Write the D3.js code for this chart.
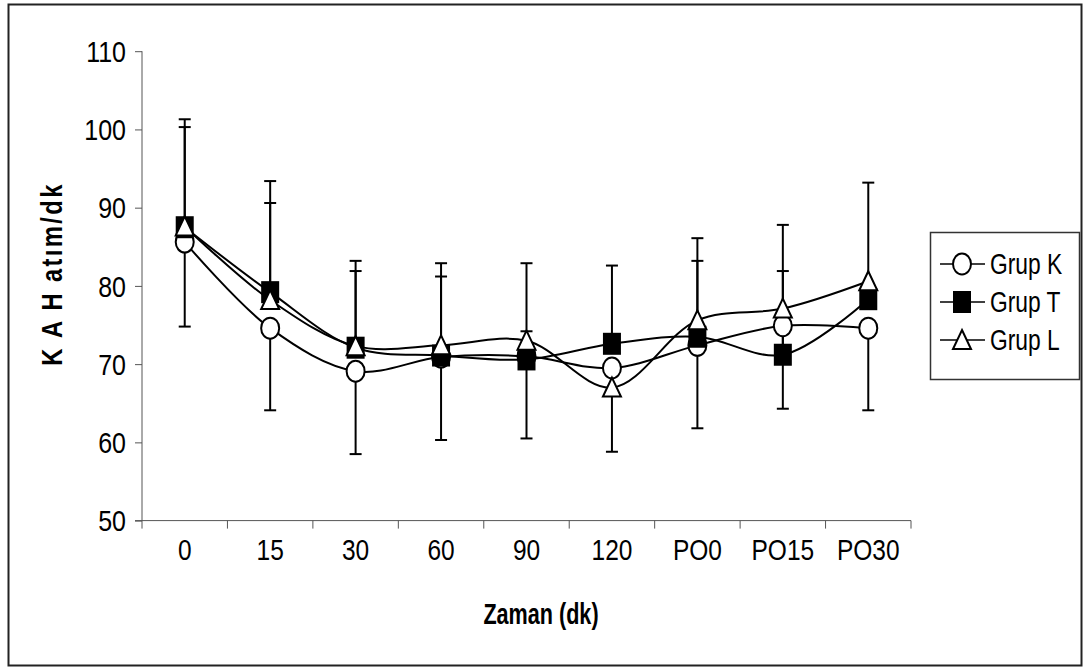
<!DOCTYPE html>
<meta charset="utf-8">
<style>
    body { margin: 0; background: #fff; }
    text { font-family: "Liberation Sans", Arial, sans-serif; fill: #000; }
</style>
<svg id="mainSVG" width="1085" height="671"></svg>
<script src="https://d3js.org/d3.v7.min.js"></script>
<script>
    // time points
    var times = ["0", "15", "30", "60", "90", "120", "PO0", "PO15", "PO30"];
    var yTicks = [50, 60, 70, 80, 90, 100, 110];

    // mean values
    var grupK = [85.6, 74.6, 69.1, 70.9, 71.0, 69.5, 72.4, 74.9, 74.6];
    var grupT = [87.5, 79.2, 72.1, 71.1, 70.6, 72.6, 73.5, 71.2, 78.3];
    var grupL = [87.6, 78.2, 72.3, 72.4, 73.0, 67.0, 75.6, 77.1, 80.6];

    // SD (K drawn downwards, T and L upwards)
    var sdK = [10.8, 10.5, 10.6, 10.6, 10.5, 10.7, 10.6, 10.6, 10.5];
    var sdT = [13.8, 14.2, 11.1, 11.8, 12.3, 10.0, 9.7, 10.7, 1.0];
    var sdL = [12.7, 12.4, 9.6, 8.8, 1.2, 3.0, 10.5, 10.7, 12.6];

    var series = [
        { name: "Grup K", values: grupK, sd: sdK, dir: 1, shape: "circle" },
        { name: "Grup T", values: grupT, sd: sdT, dir: -1, shape: "square" },
        { name: "Grup L", values: grupL, sd: sdL, dir: -1, shape: "triangle" }
    ];

    var svg = d3.select("svg");
    var sy = 1.2; // text is a bit taller than wide in the original

    var x = d3.scaleBand().domain(times).range([142, 911]);
    var y = d3.scaleLinear().domain([50, 110]).range([520.6, 51.2]);
    var cx = function (i) { return x(times[i]) + x.bandwidth() / 2; };

    function label(g, tx, ty, str, size, anchor, bold, sx) {
        return g.append("text")
            .attr("transform", "translate(" + tx + "," + ty + ") scale(" + (sx || 1) + "," + sy + ")")
            .attr("text-anchor", anchor)
            .attr("dy", "0.36em")
            .style("font-size", size + "px")
            .style("font-weight", bold ? "bold" : "normal")
            .text(str);
    }

    // outer frame
    svg.append("rect")
        .attr("x", 8.5).attr("y", 4.5)
        .attr("width", 1073).attr("height", 661)
        .attr("fill", "none").attr("stroke", "#222").attr("stroke-width", 2);

    // y axis
    var yAxis = svg.append("g")
        .attr("transform", "translate(142,0)")
        .call(d3.axisLeft(y).tickValues(yTicks).tickSize(7).tickFormat(""));
    yAxis.selectAll("path, line").attr("stroke", "#555");
    yAxis.select(".domain").attr("d", "M0," + y(110) + "V" + y(50));
    yTicks.forEach(function (t) { label(svg, 126, y(t), t, 25, "end", false); });

    // x axis, ticks on category edges
    var xg = svg.append("g");
    xg.append("line")
        .attr("x1", 135).attr("x2", 911)
        .attr("y1", y(50)).attr("y2", y(50))
        .attr("stroke", "#555");
    times.concat([null]).forEach(function (t, i) {
        var xx = i < times.length ? x(t) : x.range()[1];
        xg.append("line")
            .attr("x1", xx).attr("x2", xx)
            .attr("y1", y(50)).attr("y2", y(50) + 8)
            .attr("stroke", "#555");
    });
    times.forEach(function (t, i) { label(svg, cx(i), 549, t, 24.5, "middle", false); });

    // axis titles
    label(svg, 541, 614, "Zaman (dk)", 24, "middle", true, 0.9);
    svg.append("text")
        .attr("transform", "translate(51,274) rotate(-90) scale(0.95," + sy + ")")
        .attr("text-anchor", "middle")
        .attr("dy", "0.36em")
        .style("font-size", "25px")
        .style("font-weight", "bold")
        .style("letter-spacing", "2.5px")
        .text("K A H atım/dk");

    // error bars
    var eb = svg.append("g").attr("stroke", "#000").attr("stroke-width", 2);
    series.forEach(function (s) {
        s.values.forEach(function (v, i) {
            var end = v + (s.dir > 0 ? -s.sd[i] : s.sd[i]);
            eb.append("line")
                .attr("x1", cx(i)).attr("x2", cx(i))
                .attr("y1", y(v)).attr("y2", y(end));
            eb.append("line")
                .attr("x1", cx(i) - 6).attr("x2", cx(i) + 6)
                .attr("y1", y(end)).attr("y2", y(end));
        });
    });

    function marker(g, shape, px, py) {
        if (shape === "circle") {
            g.append("ellipse").attr("cx", px).attr("cy", py)
                .attr("rx", 9).attr("ry", 10.5)
                .attr("fill", "#fff").attr("stroke", "#000").attr("stroke-width", 2);
        } else if (shape === "square") {
            g.append("rect").attr("x", px - 9).attr("y", py - 11)
                .attr("width", 18).attr("height", 22)
                .attr("fill", "#000");
        } else {
            g.append("path")
                .attr("d", "M" + px + "," + (py - 10) + "L" + (px + 9) + "," + (py + 9) +
                    "L" + (px - 9) + "," + (py + 9) + "Z")
                .attr("fill", "#fff").attr("stroke", "#000").attr("stroke-width", 2);
        }
    }

    var line = d3.line()
        .x(function (d, i) { return cx(i); })
        .y(function (d) { return y(d); })
        .curve(d3.curveCatmullRom.alpha(0.5));

    series.forEach(function (s) {
        var g = svg.append("g");
        g.append("path")
            .attr("d", line(s.values))
            .attr("fill", "none").attr("stroke", "#000").attr("stroke-width", 2);
        s.values.forEach(function (v, i) { marker(g, s.shape, cx(i), y(v)); });
    });

    // legend
    var lg = svg.append("g");
    lg.append("rect")
        .attr("x", 930.5).attr("y", 232.5)
        .attr("width", 149).attr("height", 147)
        .attr("fill", "#fff").attr("stroke", "#333").attr("stroke-width", 1.5);
    series.forEach(function (s, i) {
        var ly = 264 + i * 38;
        lg.append("line")
            .attr("x1", 940).attr("x2", 985)
            .attr("y1", ly).attr("y2", ly)
            .attr("stroke", "#000").attr("stroke-width", 1.5);
        marker(lg, s.shape, 962, ly);
        label(lg, 990, ly, s.name, 24, "start", false, 0.95);
    });
</script>
